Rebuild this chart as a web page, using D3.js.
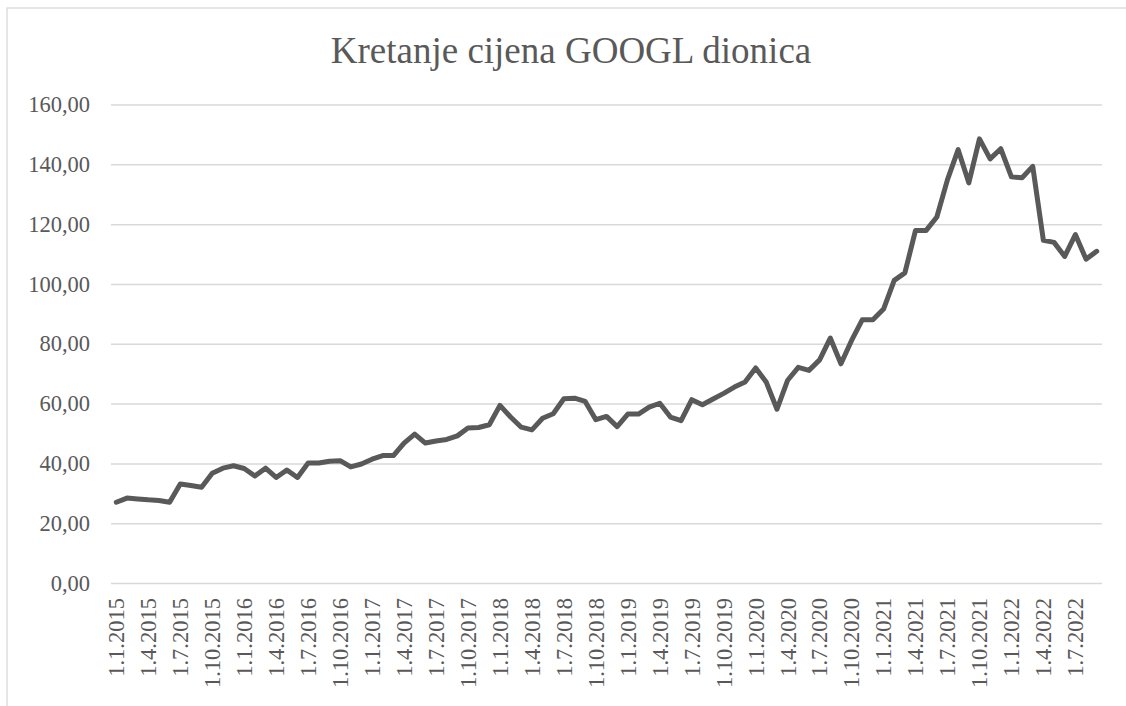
<!DOCTYPE html>
<html>
<head>
<meta charset="utf-8">
<script src="https://cdn.jsdelivr.net/npm/d3@7"></script>
<style>
  body { margin: 0; background: #fff; }
</style>
</head>
<body>
<svg id="chart" width="1126" height="706"></svg>
<script>
"use strict"

// mjesečne cijene GOOGL, 1.1.2015 - 1.9.2022
const months = d3.timeMonths(new Date(2015, 0, 1), new Date(2022, 9, 1))
const prices = [
    27.0, 28.4, 28.1, 27.8, 27.6, 27.0, 33.1, 32.6, 32.0, 36.7,
    38.4, 39.2, 38.3, 35.8, 38.4, 35.3, 37.8, 35.3, 40.1, 40.1,
    40.7, 40.9, 38.8, 39.8, 41.4, 42.6, 42.6, 46.8, 49.8, 46.8,
    47.5, 48.0, 49.2, 51.8, 52.0, 52.9, 59.4, 55.5, 52.1, 51.2,
    55.1, 56.6, 61.6, 61.8, 60.7, 54.6, 55.7, 52.3, 56.5, 56.5,
    58.8, 60.1, 55.5, 54.3, 61.3, 59.6, 61.5, 63.4, 65.5, 67.2,
    71.9, 67.1, 58.1, 67.8, 72.1, 71.1, 74.6, 81.9, 73.3, 81.1,
    88.0, 88.0, 91.6, 101.2, 103.7, 117.9, 117.9, 122.4, 134.9, 144.9,
    133.8, 148.5, 141.8, 145.2, 135.8, 135.5, 139.3, 114.6, 113.9, 109.2,
    116.5, 108.3, 110.9
]
const yTicks = [0, 20, 40, 60, 80, 100, 120, 140, 160]
const title = "Kretanje cijena GOOGL dionica"

const fontFam = "'Liberation Serif', 'Times New Roman', serif"
const textColor = "#595959"
const fmtDate = d3.timeFormat("%-d.%-m.%Y")
const fmtNum = v => d3.format(".2f")(v).replace(".", ",")

const svg = d3.select("#chart")
const plot = { left: 111, right: 1102, top: 104.5, bottom: 583 }

// okvir grafikona
svg.append("rect")
    .attr("x", 7).attr("y", 8)
    .attr("width", 1130).attr("height", 720)
    .attr("fill", "none")
    .attr("stroke", "#d9d9d9")
    .attr("stroke-width", 1.3)

svg.append("text")
    .attr("x", 571).attr("y", 63)
    .attr("text-anchor", "middle")
    .style("font-family", fontFam)
    .style("font-size", "37px")
    .style("fill", textColor)
    .text(title)

const x = d3.scaleBand()
    .domain(d3.range(months.length))
    .range([plot.left, plot.right])

const y = d3.scaleLinear()
    .domain([0, 160])
    .range([plot.bottom, plot.top])

const yAxis = svg.append("g")
    .attr("transform", "translate(" + plot.left + ",0)")
    .call(d3.axisLeft(y)
        .tickValues(yTicks)
        .tickFormat(fmtNum)
        .tickSize(-(plot.right - plot.left))
        .tickPadding(21))
yAxis.select(".domain").remove()
yAxis.selectAll(".tick line")
    .attr("stroke", "#d9d9d9")
    .attr("stroke-width", 1.5)
yAxis.selectAll(".tick text")
    .style("font-family", fontFam)
    .style("font-size", "22.5px")
    .style("fill", textColor)

const tickIdx = d3.range(0, months.length, 3)
const xAxis = svg.append("g")
    .attr("transform", "translate(0," + plot.bottom + ")")
    .call(d3.axisBottom(x)
        .tickValues(tickIdx)
        .tickFormat(i => fmtDate(months[i]))
        .tickSize(0))
xAxis.select(".domain").remove()
xAxis.selectAll(".tick text")
    .style("font-family", fontFam)
    .style("font-size", "22.5px")
    .style("fill", textColor)
    .attr("text-anchor", "end")
    .attr("transform", "rotate(-90)")
    .attr("x", -15)
    .attr("y", 0)
    .attr("dy", "0.35em")

const line = d3.line()
    .x((d, i) => x(i) + x.bandwidth() / 2)
    .y(d => y(d))

svg.append("path")
    .datum(prices)
    .attr("d", line)
    .attr("fill", "none")
    .attr("stroke", "#595959")
    .attr("stroke-width", 5)
    .attr("stroke-linejoin", "round")
    .attr("stroke-linecap", "round")
</script>
</body>
</html>
